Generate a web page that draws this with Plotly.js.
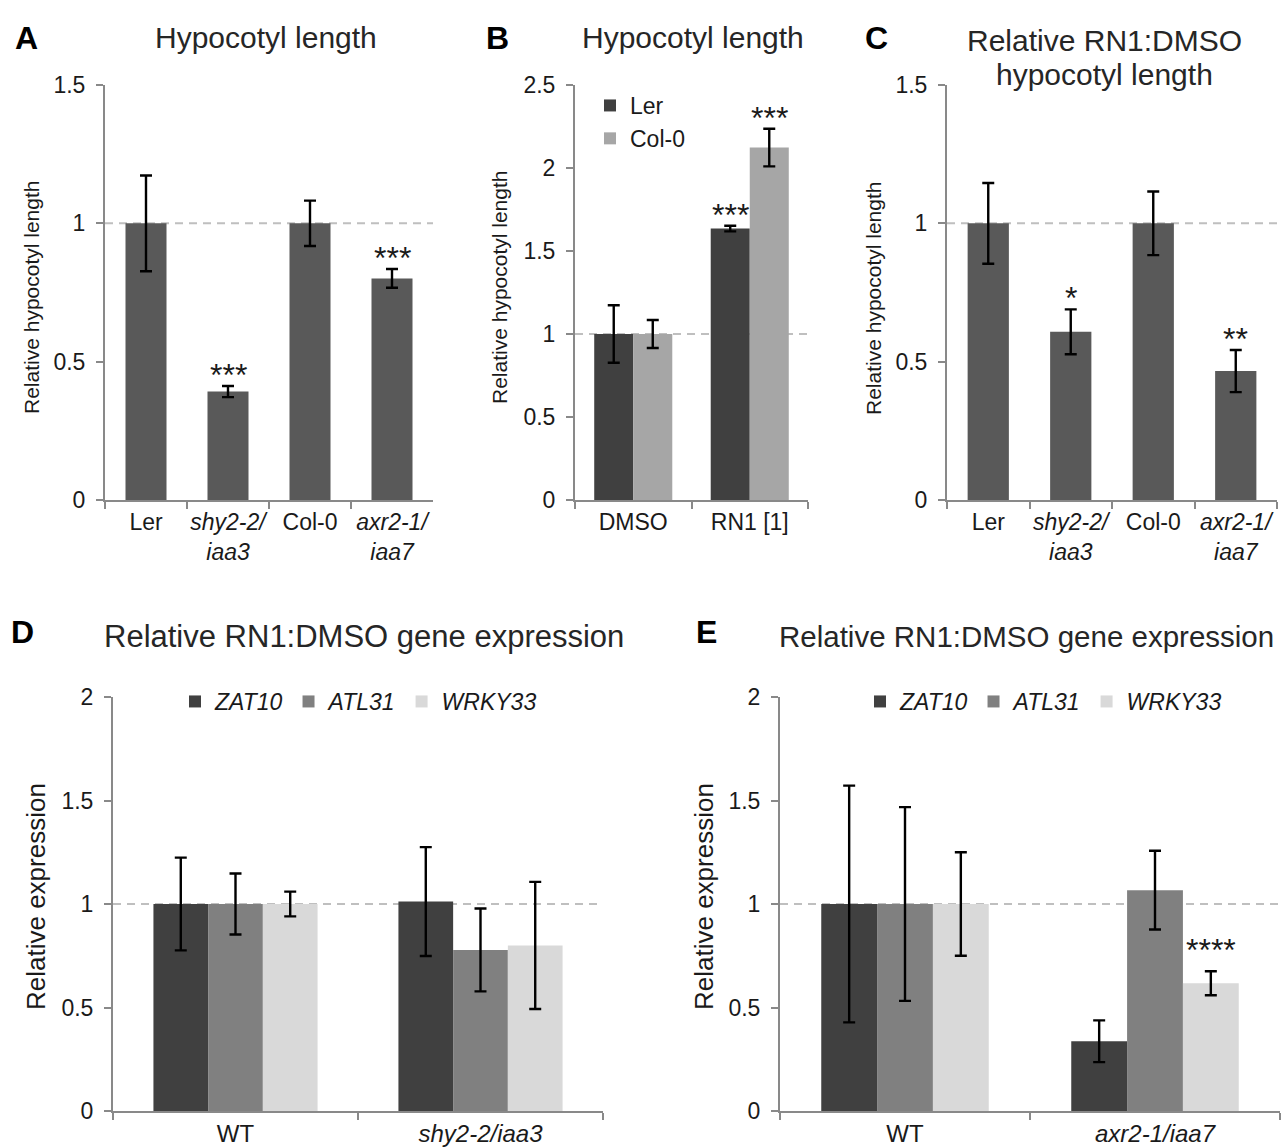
<!DOCTYPE html>
<html><head><meta charset="utf-8">
<script src="https://cdn.plot.ly/plotly-3.0.1.min.js"></script>
<style>html,body{margin:0;padding:0;background:#fff}#chart{width:1286px;height:1148px}</style>
</head><body><div id="chart"></div>
<script>
// ---------- DATA ----------
const catsA = ["Ler", "shy2-2/iaa3", "Col-0", "axr2-1/iaa7"];
const ticksA = ["Ler", "<i>shy2-2/</i><br><i>iaa3</i>", "Col-0", "<i>axr2-1/</i><br><i>iaa7</i>"];
const valsA = [1.0, 0.392, 1.0, 0.801];
const errA = [0.173, 0.020, 0.082, 0.034];
const starsA = ["", "***", "", "***"];

const catsB = ["DMSO", "RN1 [1]"];
const seriesB = ["Ler", "Col-0"];
const valsBLer = [1.0, 1.635];
const errBLer = [0.173, 0.017];
const starsBLer = ["", "***"];
const valsBCol = [1.0, 2.123];
const errBCol = [0.084, 0.113];
const starsBCol = ["", "***"];

const catsC = ["Ler", "shy2-2/iaa3", "Col-0", "axr2-1/iaa7"];
const valsC = [1.0, 0.608, 1.0, 0.466];
const errC = [0.146, 0.081, 0.115, 0.076];
const starsC = ["", "*", "", "**"];

const genes = ["ZAT10", "ATL31", "WRKY33"];
const catsD = ["WT", "shy2-2/iaa3"];
const ticksD = ["WT", "<i>shy2-2/iaa3</i>"];
const valsDZAT10 = [1.0, 1.012];
const errDZAT10 = [0.224, 0.263];
const valsDATL31 = [1.0, 0.778];
const errDATL31 = [0.147, 0.200];
const valsDWRKY33 = [1.0, 0.800];
const errDWRKY33 = [0.060, 0.307];

const catsE = ["WT", "axr2-1/iaa7"];
const ticksE = ["WT", "<i>axr2-1/iaa7</i>"];
const valsEZAT10 = [1.0, 0.337];
const errEZAT10 = [0.572, 0.101];
const valsEATL31 = [1.0, 1.067];
const errEATL31 = [0.468, 0.190];
const valsEWRKY33 = [1.0, 0.617];
const errEWRKY33 = [0.250, 0.058];
const starsEWRKY33 = ["", "****"];

// ---------- STYLE / LAYOUT ----------
const W = 1286, H = 1148;
const FONT = "Liberation Sans, Arial, sans-serif";
const px = v => v / W;
const py = v => 1 - v / H;
const AXC = "#898989";
const TXT = "#1a1a1a";
const cSingle = "#595959";
const cDark = "#404040", cMid = "#808080", cLight = "#d9d9d9", cLightB = "#a6a6a6";
const BARGAP = 0.33;

const box = {
  A: {x0: 105, x1: 433, y0: 85, y1: 500},
  B: {x0: 575, x1: 808, y0: 85, y1: 500},
  C: {x0: 947, x1: 1277, y0: 85, y1: 500},
  D: {x0: 113, x1: 603, y0: 697, y1: 1111},
  E: {x0: 780, x1: 1280, y0: 697, y1: 1111}
};

function errObj(arr) {
  return {type: "data", array: arr, visible: true, color: "#000", thickness: 2.4, width: 6};
}

const traces = [];
traces.push({type: "bar", x: catsA, y: valsA, xaxis: "x", yaxis: "y", width: 0.5,
  marker: {color: cSingle}, error_y: errObj(errA), showlegend: false});
traces.push({type: "bar", name: seriesB[0], x: catsB, y: valsBLer, xaxis: "x2", yaxis: "y2",
  marker: {color: cDark}, error_y: errObj(errBLer), legend: "legend"});
traces.push({type: "bar", name: seriesB[1], x: catsB, y: valsBCol, xaxis: "x2", yaxis: "y2",
  marker: {color: cLightB}, error_y: errObj(errBCol), legend: "legend"});
traces.push({type: "bar", x: catsC, y: valsC, xaxis: "x3", yaxis: "y3", width: 0.5,
  marker: {color: cSingle}, error_y: errObj(errC), showlegend: false});
const dVals = [valsDZAT10, valsDATL31, valsDWRKY33];
const dErr = [errDZAT10, errDATL31, errDWRKY33];
const eVals = [valsEZAT10, valsEATL31, valsEWRKY33];
const eErr = [errEZAT10, errEATL31, errEWRKY33];
const gCols = [cDark, cMid, cLight];
genes.forEach((g, i) => {
  traces.push({type: "bar", name: "<i>" + g + "</i>", x: catsD, y: dVals[i], xaxis: "x4", yaxis: "y4",
    marker: {color: gCols[i]}, error_y: errObj(dErr[i]), legend: "legend2"});
});
genes.forEach((g, i) => {
  traces.push({type: "bar", name: "<i>" + g + "</i>", x: catsE, y: eVals[i], xaxis: "x5", yaxis: "y5",
    marker: {color: gCols[i]}, error_y: errObj(eErr[i]), legend: "legend3"});
});

function xax(b, cats, ticktext, anchor, fs) {
  return {
    domain: [px(b.x0), px(b.x1)], anchor: anchor, type: "category",
    categoryorder: "array", categoryarray: cats,
    tickvals: cats, ticktext: ticktext, tickangle: 0,
    showline: true, linecolor: AXC, linewidth: 2,
    ticks: "outside", tickson: "boundaries", ticklen: 7, tickwidth: 2, tickcolor: AXC,
    showgrid: false, zeroline: false,
    tickfont: {family: FONT, size: fs, color: TXT}, fixedrange: true
  };
}
function yax(b, range, anchor, fs) {
  return {
    domain: [py(b.y1), py(b.y0)], anchor: anchor, range: range, dtick: 0.5, tick0: 0,
    showline: true, linecolor: AXC, linewidth: 2,
    ticks: "outside", ticklen: 7, tickwidth: 2, tickcolor: AXC,
    showgrid: false, zeroline: false, ticklabelstandoff: 6,
    tickfont: {family: FONT, size: fs, color: TXT}, fixedrange: true
  };
}

const shapes = [];
[["x", "y"], ["x2", "y2"], ["x3", "y3"], ["x4", "y4"], ["x5", "y5"]].forEach(([xa, ya]) => {
  shapes.push({type: "line", xref: xa + " domain", yref: ya, x0: 0, x1: 1, y0: 1, y1: 1,
    layer: "below", line: {color: "#bfbfbf", width: 2, dash: "8px,6px"}});
});

const annotations = [];
function starAnn(xa, ya, cats, vals, errs, stars, xshiftPx, lift) {
  cats.forEach((c, i) => {
    if (!stars[i]) return;
    annotations.push({xref: xa, yref: ya, x: c, y: vals[i] + errs[i], text: stars[i],
      showarrow: false, yanchor: "middle", xshift: xshiftPx, yshift: lift,
      font: {family: FONT, size: 32, color: TXT}});
  });
}
starAnn("x", "y", catsA, valsA, errA, starsA, 0, 11);
const catWB = (box.B.x1 - box.B.x0) / catsB.length;
const bw2 = (1 - BARGAP) / 2;
starAnn("x2", "y2", catsB, valsBLer, errBLer, starsBLer, (-(1 - BARGAP) / 2 + 0.5 * bw2) * catWB, 11);
starAnn("x2", "y2", catsB, valsBCol, errBCol, starsBCol, (-(1 - BARGAP) / 2 + 1.5 * bw2) * catWB, 11);
starAnn("x3", "y3", catsC, valsC, errC, starsC, 0, 11);
const catWE = (box.E.x1 - box.E.x0) / catsE.length;
const bw3 = (1 - BARGAP) / 3;
starAnn("x5", "y5", catsE, valsEWRKY33, errEWRKY33, starsEWRKY33, (-(1 - BARGAP) / 2 + 2.5 * bw3) * catWE, 21);

function txt(x, y, text, size, bold, extra) {
  annotations.push(Object.assign({xref: "paper", yref: "paper", x: px(x), y: py(y), text: bold ? "<b>" + text + "</b>" : text,
    showarrow: false, xanchor: "center", yanchor: "middle",
    font: {family: FONT, size: size, color: bold ? "#000" : "#262626"}}, extra || {}));
}
txt(26, 38, "A", 32, true);
txt(497, 38, "B", 32, true);
txt(876, 38, "C", 32, true);
txt(22, 632, "D", 32, true);
txt(706, 632, "E", 32, true);
txt(266, 38, "Hypocotyl length", 30, false);
txt(693, 38, "Hypocotyl length", 30, false);
txt(1104, 40, "Relative RN1:DMSO", 30, false);
txt(1104, 75, "hypocotyl length", 30, false);
txt(364, 636, "Relative RN1:DMSO gene expression", 31, false);
txt(1026, 636, "Relative RN1:DMSO gene expression", 29.5, false);
const yt = (x, y, t, s) => txt(x, y, t, s, false, {textangle: -90, font: {family: FONT, size: s, color: TXT}});
yt(31, 298, "Relative hypocotyl length", 21);
yt(500, 288, "Relative hypocotyl length", 21);
yt(873, 298, "Relative hypocotyl length", 21);
yt(36, 897, "Relative expression", 26);
yt(704, 897, "Relative expression", 26);

const legendBase = {bgcolor: "rgba(0,0,0,0)", borderwidth: 0, itemwidth: 30, itemclick: false, itemdoubleclick: false,
  font: {family: FONT, size: 22, color: TXT}, xanchor: "left", yanchor: "top"};

const layout = {
  width: W, height: H, margin: {l: 0, r: 0, t: 0, b: 0},
  paper_bgcolor: "#fff", plot_bgcolor: "rgba(0,0,0,0)",
  barmode: "group", bargap: BARGAP, bargroupgap: 0,
  showlegend: true,
  xaxis: xax(box.A, catsA, ticksA, "y", 23),
  yaxis: yax(box.A, [0, 1.5], "x", 23),
  xaxis2: xax(box.B, catsB, catsB, "y2", 23),
  yaxis2: yax(box.B, [0, 2.5], "x2", 23),
  xaxis3: xax(box.C, catsC, ticksA, "y3", 23),
  yaxis3: yax(box.C, [0, 1.5], "x3", 23),
  xaxis4: xax(box.D, catsD, ticksD, "y4", 24),
  yaxis4: yax(box.D, [0, 2], "x4", 23),
  xaxis5: xax(box.E, catsE, ticksE, "y5", 24),
  yaxis5: yax(box.E, [0, 2], "x5", 23),
  legend: Object.assign({}, legendBase, {x: px(590), y: py(84), orientation: "v", tracegroupgap: 0, font: {family: FONT, size: 23, color: TXT}}),
  legend2: Object.assign({}, legendBase, {x: px(175), y: py(680), orientation: "h", font: {family: FONT, size: 23, color: TXT}}),
  legend3: Object.assign({}, legendBase, {x: px(860), y: py(680), orientation: "h", font: {family: FONT, size: 23, color: TXT}}),
  shapes: shapes,
  annotations: annotations,
  hovermode: false
};

Plotly.newPlot("chart", traces, layout, {displayModeBar: false, staticPlot: true});
</script>
</body></html>
